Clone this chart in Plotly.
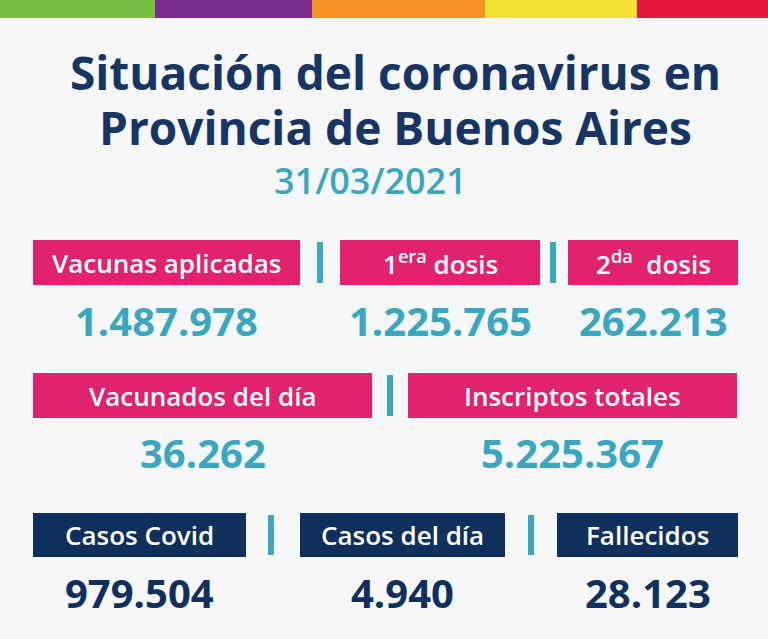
import plotly.graph_objects as go

title_lines = ["Situación del coronavirus en", "Provincia de Buenos Aires"]
date_label = "31/03/2021"
row1_labels = ["Vacunas aplicadas", "1<sup>era</sup> dosis", "2<sup>da</sup>  dosis"]
row1_values = ["1.487.978", "1.225.765", "262.213"]
row2_labels = ["Vacunados del día", "Inscriptos totales"]
row2_values = ["36.262", "5.225.367"]
row3_labels = ["Casos Covid", "Casos del día", "Fallecidos"]
row3_values = ["979.504", "4.940", "28.123"]

NAVY = "#173563"
TEAL = "#3aa7bf"
PINK = "#e0226f"
DARK = "#0f2f5c"
FONT = "Open Sans"

fig = go.Figure()
shapes = []
ann = []

stripes = [(0, 155, "#76bf43"), (155, 312, "#7a2c8f"), (312, 485, "#f39325"),
           (485, 637, "#f2e233"), (637, 768, "#e3173e")]
for x0, x1, c in stripes:
    shapes.append(dict(type="rect", x0=x0, x1=x1, y0=0, y1=18, fillcolor=c, line_width=0, layer="below"))

for i, t in enumerate(title_lines):
    ann.append(dict(x=395, y=72 + 55 * i, text=t, font=dict(family=FONT, size=46, color=NAVY, weight=700)))
ann.append(dict(x=370, y=180, text=date_label, font=dict(family=FONT, size=36, color=TEAL, weight=600)))

def row(boxes, labels, values, seps, y0, y1, vy, fill, vcolor):
    for (x0, x1), lab, val in zip(boxes, labels, values):
        shapes.append(dict(type="rect", x0=x0, x1=x1, y0=y0, y1=y1, fillcolor=fill, line_width=0))
        ann.append(dict(x=(x0 + x1) / 2, y=(y0 + y1) / 2, text=lab,
                        font=dict(family=FONT, size=26, color="white", weight=600)))
        ann.append(dict(x=(x0 + x1) / 2, y=vy, text=val,
                        font=dict(family=FONT, size=40, color=vcolor, weight=700)))
    for s in seps:
        shapes.append(dict(type="rect", x0=s - 3, x1=s + 3, y0=y0 + 2, y1=y1 - 2, fillcolor=TEAL, line_width=0))

row([(33, 300), (340, 540), (568, 738)], row1_labels, row1_values, [320, 553], 240, 285, 320, PINK, TEAL)
row([(33, 372), (408, 737)], row2_labels, row2_values, [390], 373, 418, 452, PINK, TEAL)
row([(33, 246), (300, 505), (557, 738)], row3_labels, row3_values, [271, 531], 513, 557, 592, DARK, DARK)

for a in ann:
    a.update(xref="x", yref="y", showarrow=False, xanchor="center", yanchor="middle")

fig.update_layout(width=768, height=639, margin=dict(l=0, r=0, t=0, b=0),
                  paper_bgcolor="#f6f7f9", plot_bgcolor="#f6f7f9",
                  shapes=shapes, annotations=ann, showlegend=False,
                  xaxis=dict(range=[0, 768], visible=False, fixedrange=True),
                  yaxis=dict(range=[639, 0], visible=False, fixedrange=True))
fig.write_html("out.html", config={"displayModeBar": False},
               post_script="document.body.style.margin='0';document.body.style.overflow='hidden';")
